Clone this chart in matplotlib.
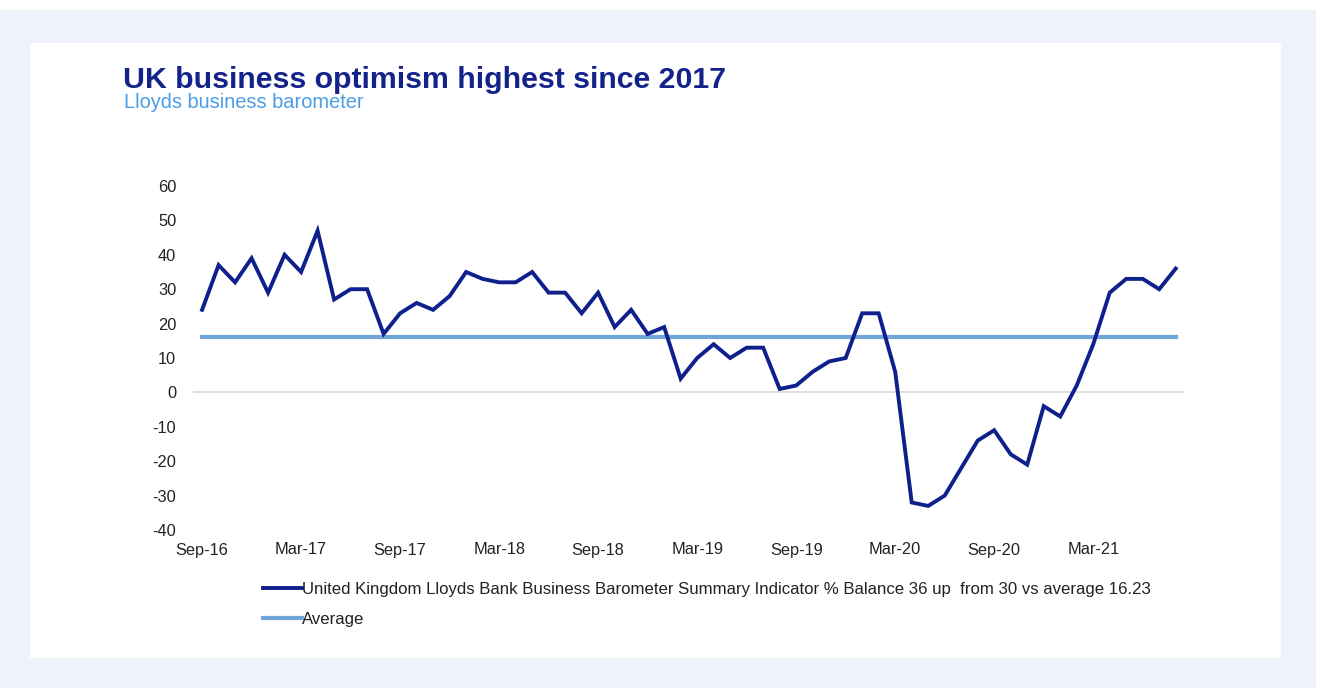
import matplotlib
matplotlib.use("Agg")
import matplotlib.pyplot as plt
from matplotlib.patches import Rectangle

months = ["Sep-16","Oct-16","Nov-16","Dec-16",
          "Jan-17","Feb-17","Mar-17","Apr-17","May-17","Jun-17","Jul-17","Aug-17","Sep-17","Oct-17","Nov-17","Dec-17",
          "Jan-18","Feb-18","Mar-18","Apr-18","May-18","Jun-18","Jul-18","Aug-18","Sep-18","Oct-18","Nov-18","Dec-18",
          "Jan-19","Feb-19","Mar-19","Apr-19","May-19","Jun-19","Jul-19","Aug-19","Sep-19","Oct-19","Nov-19","Dec-19",
          "Jan-20","Feb-20","Mar-20","Apr-20","May-20","Jun-20","Jul-20","Aug-20","Sep-20","Oct-20","Nov-20","Dec-20",
          "Jan-21","Feb-21","Mar-21","Apr-21","May-21","Jun-21","Jul-21","Aug-21"]
barometer = [24, 37, 32, 39,
             29, 40, 35, 47, 27, 30, 30, 17, 23, 26, 24, 28,
             35, 33, 32, 32, 35, 29, 29, 23, 29, 19, 24, 17,
             19, 4, 10, 14, 10, 13, 13, 1, 2, 6, 9, 10,
             23, 23, 6, -32, -33, -30, -22, -14, -11, -18, -21, -4,
             -7, 2, 14, 29, 33, 33, 30, 36]
average = 16.23
tick_labels = ["Sep-16","Mar-17","Sep-17","Mar-18","Sep-18","Mar-19","Sep-19","Mar-20","Sep-20","Mar-21"]
y_ticks = [60, 50, 40, 30, 20, 10, 0, -10, -20, -30, -40]

title = "UK business optimism highest since 2017"
subtitle = "Lloyds business barometer"
series_label = "United Kingdom Lloyds Bank Business Barometer Summary Indicator % Balance 36 up  from 30 vs average 16.23"
avg_label = "Average"

W, H = 1321, 688
fig = plt.figure(figsize=(W/100, H/100), dpi=100)
fig.patch.set_facecolor("white")

# background panels
fig.patches.append(Rectangle((0, 0), 1316/W, (H-10)/H, transform=fig.transFigure,
                             facecolor="#EEF3FB", edgecolor="none", zorder=-2))
fig.patches.append(Rectangle((30/W, 1-658/H), (1281-30)/W, (658-43)/H, transform=fig.transFigure,
                             facecolor="white", edgecolor="none", zorder=-1))

arial = ["Liberation Sans", "DejaVu Sans"]

fig.text(123/W, 1-80/H, title, fontsize=21.8, fontweight="bold", color="#14238A",
         family=arial, va="center", ha="left")
fig.text(124/W, 1-103/H, subtitle, fontsize=14.4, color="#4A9DE6",
         family=arial, va="center", ha="left")

ax = fig.add_axes([193/W, 1-530/H, (1184-193)/W, (530-186)/H])
ax.set_facecolor("none")
x = list(range(len(months)))
ax.axhline(0, color="#D9D9D9", lw=1.2, zorder=1)
ax.plot(x, barometer, color="#0F1F8C", lw=2.8, zorder=3, label=series_label,
        solid_joinstyle="miter")
ax.plot(x, [average]*len(x), color="#6FA5D8", lw=3, zorder=2, label=avg_label)

ax.set_xlim(-0.55, 59.5)
ax.set_ylim(-40, 60)
ax.set_yticks(y_ticks)
ax.set_yticklabels([str(v) for v in y_ticks])
ax.set_xticks([months.index(m) for m in tick_labels])
ax.set_xticklabels(tick_labels)
for s in ax.spines.values():
    s.set_visible(False)
ax.tick_params(axis="both", length=0, labelsize=11.8, colors="#222222")
ax.tick_params(axis="y", pad=12)
ax.tick_params(axis="x", pad=9)
for lab in ax.get_xticklabels() + ax.get_yticklabels():
    lab.set_family(arial)

leg = ax.legend(loc="upper left", bbox_to_anchor=((263-193)/(1184-193), -0.15),
                frameon=False, handlelength=2.3, handletextpad=0.0, labelspacing=0.9,
                prop={"family": arial, "size": 12.1}, borderaxespad=0, borderpad=0)
for t in leg.get_texts():
    t.set_color("#222222")

fig.savefig("out.png", dpi=100)
